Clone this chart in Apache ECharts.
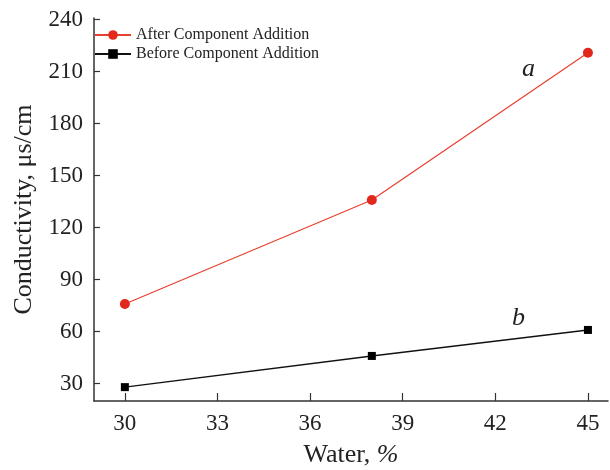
<!DOCTYPE html>
<html><head><meta charset="utf-8">
<script src="https://cdn.jsdelivr.net/npm/echarts@6/dist/echarts.min.js"></script>
<style>html,body{margin:0;padding:0;background:#fff}#c{width:610px;height:470px}</style>
</head><body><div id="c"></div>
<script>
const water = [30, 38, 45];
const afterAddition = [76, 136, 221];
const beforeAddition = [28, 46, 61];
const xTicks = [30, 33, 36, 39, 42, 45];
const yTicks = [30, 60, 90, 120, 150, 180, 210, 240];
const seriesNames = ['After Component Addition', 'Before Component Addition'];

const font = 'Liberation Serif';
const chart = echarts.init(document.getElementById('c'), null, {renderer: 'canvas'});
chart.setOption({
  animation: false,
  backgroundColor: '#fff',
  textStyle: {fontFamily: font},
  grid: {left: 94, right: 2, top: 18, bottom: 69, containLabel: false, outerBoundsMode: 'none'},
  legend: {
    orient: 'vertical', left: 94, top: 27, padding: 0, itemGap: 3, itemWidth: 36, itemHeight: 12,
    textStyle: {fontFamily: font, fontSize: 16, lineHeight: 12, color: '#222'},
    data: seriesNames
  },
  xAxis: {
    type: 'value', min: 29, max: 45.65,
    name: 'Water, {i|%}', nameLocation: 'middle', nameGap: 41,
    nameTextStyle: {fontFamily: font, fontSize: 26, color: '#222', rich: {i: {fontFamily: font, fontStyle: 'italic', fontSize: 26, color: '#222'}}},
    axisLine: {show: true, lineStyle: {color: '#333', width: 1.5}},
    axisTick: {show: true, inside: true, length: 8, customValues: xTicks, lineStyle: {color: '#333', width: 1.2}},
    axisLabel: {customValues: xTicks, fontFamily: font, fontSize: 23, color: '#222', margin: 11},
    splitLine: {show: false}
  },
  yAxis: {
    type: 'value', min: 20, max: 241,
    name: 'Conductivity, μs/cm', nameLocation: 'middle', nameGap: 57,
    nameTextStyle: {fontFamily: font, fontSize: 26, color: '#222'},
    axisLine: {show: true, lineStyle: {color: '#333', width: 1.5}},
    axisTick: {show: true, inside: true, length: 6, customValues: yTicks, lineStyle: {color: '#333', width: 1.2}},
    axisLabel: {customValues: yTicks, fontFamily: font, fontSize: 23, color: '#222', margin: 11},
    splitLine: {show: false}
  },
  series: [
    {
      name: seriesNames[0], type: 'line',
      data: water.map((x, i) => [x, afterAddition[i]]),
      symbol: 'circle', symbolSize: 10,
      itemStyle: {color: '#e3281b'}, lineStyle: {color: '#e8402f', width: 1.2}
    },
    {
      name: seriesNames[1], type: 'line',
      data: water.map((x, i) => [x, beforeAddition[i]]),
      symbol: 'rect', symbolSize: 8,
      itemStyle: {color: '#000'}, lineStyle: {color: '#111', width: 1.4}
    }
  ],
  graphic: [
    {type: 'text', left: 522, top: 56, style: {text: 'a', font: 'italic 26px "Liberation Serif"', fill: '#222'}},
    {type: 'text', left: 512, top: 305, style: {text: 'b', font: 'italic 26px "Liberation Serif"', fill: '#222'}}
  ]
});
</script></body></html>
